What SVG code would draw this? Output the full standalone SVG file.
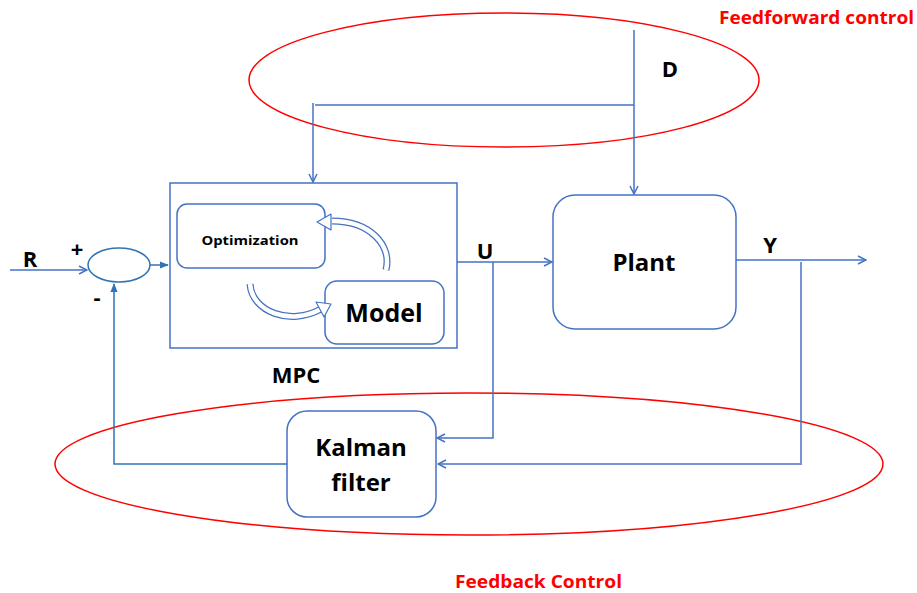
<svg xmlns="http://www.w3.org/2000/svg" width="917" height="593" viewBox="0 0 917 593">
<style>
.ln{fill:none;stroke:#4472C4;stroke-width:1.5}
.box{fill:#fff;stroke:#4472C4;stroke-width:1.5}
.t{font-family:"Open Sans","Liberation Sans",sans-serif;font-weight:bold;fill:#000}
.red{font-family:"Open Sans","Liberation Sans",sans-serif;font-weight:bold;fill:#FF0000}
.ell{fill:none;stroke:#FF0000;stroke-width:1.5}
</style>
<defs>
<marker id="open" viewBox="0 0 10 10" refX="9" refY="5" markerWidth="10" markerHeight="10" markerUnits="userSpaceOnUse" orient="auto">
<path d="M1 1 L9 5 L1 9" fill="none" stroke="#4472C4" stroke-width="1.5"/>
</marker>
<marker id="fill" viewBox="0 0 10 10" refX="9" refY="5" markerWidth="9" markerHeight="9" markerUnits="userSpaceOnUse" orient="auto">
<path d="M0 1 L10 5 L0 9 Z" fill="#2E75B6"/>
</marker>
</defs>

<g id="ellipses">
<ellipse class="ell" cx="504" cy="80" rx="255" ry="67"/>
<ellipse class="ell" cx="469" cy="464" rx="414" ry="71"/>
</g>

<g id="connectors">
<path class="ln" d="M634 30 V194" marker-end="url(#open)"/>
<path class="ln" d="M634 105 H315"/>
<path class="ln" d="M313 103 V182" marker-end="url(#open)"/>
<path class="ln" d="M10 270 H87" marker-end="url(#open)"/>
<path d="M150 265 H168" fill="none" stroke="#2E75B6" stroke-width="1.5" marker-end="url(#fill)"/>
<path d="M288 464 H114 V284" fill="none" stroke="#2E75B6" stroke-width="1.5" marker-end="url(#fill)"/>
<path class="ln" d="M457 262 H552" marker-end="url(#open)"/>
<path class="ln" d="M493 262 V438 H437" marker-end="url(#open)"/>
<path class="ln" d="M736 260 H866" marker-end="url(#open)"/>
<path class="ln" d="M801 262 V465"/>
<path class="ln" d="M800 464 H438" marker-end="url(#open)"/>
</g>

<g id="sum">
<ellipse cx="119" cy="265" rx="31" ry="17" fill="#fff" stroke="#2E75B6" stroke-width="1.5"/>
</g>

<g id="mpc">
<rect class="box" x="170" y="183" width="287" height="165"/>
<text class="t" x="296" y="383" font-size="22" text-anchor="middle">MPC</text>
</g>

<g id="optimization">
<rect class="box" x="177" y="204" width="148" height="64" rx="10"/>
<text class="t" x="250" y="245" font-size="13" text-anchor="middle" textLength="97" lengthAdjust="spacingAndGlyphs">Optimization</text>
</g>

<g id="model">
<rect class="box" x="325" y="281" width="119" height="63" rx="12"/>
<text class="t" x="384" y="322" font-size="25" text-anchor="middle">Model</text>
</g>

<g id="cycle-arrows">
<path d="M386 270 C392 245 370 221 332 221" fill="none" stroke="#4472C4" stroke-width="7"/>
<path d="M386 270 C392 245 370 221 332 221" fill="none" stroke="#fff" stroke-width="4.5"/>
<path d="M331 214 L317 222 L331 230 Z" fill="#fff" stroke="#4472C4" stroke-width="1.2" stroke-linejoin="round"/>
<path d="M250 284 C252 312 290 326 321 309" fill="none" stroke="#4472C4" stroke-width="7"/>
<path d="M250 284 C252 312 290 326 321 309" fill="none" stroke="#fff" stroke-width="4.5"/>
<path d="M316 302 L331 304 L324 317 Z" fill="#fff" stroke="#4472C4" stroke-width="1.2" stroke-linejoin="round"/>
</g>

<g id="plant">
<rect class="box" x="553" y="195" width="183" height="134" rx="22"/>
<text class="t" x="644" y="271" font-size="24" text-anchor="middle">Plant</text>
</g>

<g id="kalman">
<rect class="box" x="287" y="411" width="149" height="106" rx="20"/>
<text class="t" x="361" y="456" font-size="24" text-anchor="middle">Kalman</text>
<text class="t" x="361" y="491" font-size="24" text-anchor="middle">filter</text>
</g>

<g id="labels">
<text class="t" x="30" y="267" font-size="22" text-anchor="middle">R</text>
<text class="t" x="77" y="257" font-size="22" text-anchor="middle">+</text>
<text class="t" x="97" y="305" font-size="22" text-anchor="middle">-</text>
<text class="t" x="485" y="259" font-size="22" text-anchor="middle">U</text>
<text class="t" x="770" y="253" font-size="22" text-anchor="middle">Y</text>
<text class="t" x="670" y="77" font-size="22" text-anchor="middle">D</text>
<text class="red" x="719" y="24" font-size="17" textLength="195" lengthAdjust="spacingAndGlyphs">Feedforward control</text>
<text class="red" x="455" y="588" font-size="17" textLength="167" lengthAdjust="spacingAndGlyphs">Feedback Control</text>
</g>
</svg>
